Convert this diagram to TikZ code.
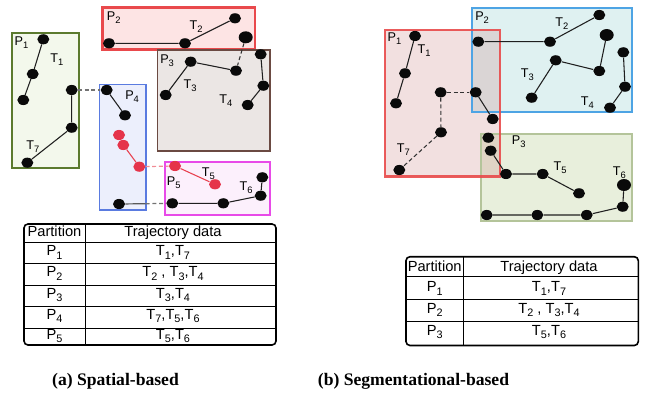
\documentclass[tikz,border=0pt]{standalone}
\usepackage{fontspec}
\setmainfont{Liberation Sans}
\newfontfamily\capfont{Liberation Serif}
\usetikzlibrary{shapes.geometric}

\definecolor{dotblack}{HTML}{0A0A0A}
\definecolor{dotred}{HTML}{E5344A}
\definecolor{segred}{HTML}{E8404E}
\definecolor{lgreenfill}{HTML}{F3F8EC}
\definecolor{lgreenline}{HTML}{5B7A2E}
\definecolor{lbluefill}{HTML}{ECEFFC}
\definecolor{lblueline}{HTML}{5A7BE0}
\definecolor{lredfill}{HTML}{FDE4E4}
\definecolor{lredline}{HTML}{E9494C}
\definecolor{lbrownfill}{HTML}{EBE6E4}
\definecolor{lbrownline}{HTML}{6B4A42}
\definecolor{lmagfill}{HTML}{FCF0FC}
\definecolor{lmagline}{HTML}{E84AE8}
\definecolor{rredtint}{HTML}{CC8484}
\definecolor{rredline}{HTML}{E84A4A}
\definecolor{rcyanfill}{HTML}{DFF1F1}
\definecolor{rcyanline}{HTML}{4EA4E4}
\definecolor{rgreenfill}{HTML}{E8EFDC}
\definecolor{rgreenline}{HTML}{B4C49A}

% subscript at about three quarters of the running size
\newcommand\sbs[1]{\raisebox{-0.45ex}{\fontsize{0.74\dimexpr\fontdimen6\font\relax}{1pt}\selectfont #1}}

\begin{document}
\begin{tikzpicture}[x=0.75pt,y=-0.75pt,
  dot/.style={ellipse,fill=dotblack,inner sep=0pt,minimum width=9pt,minimum height=7.6pt},
  bigdot/.style={dot,minimum width=10.5pt,minimum height=9pt},
  rdot/.style={dot,fill=dotred},
  seg/.style={draw=black!88,line width=0.8pt},
  rseg/.style={draw=segred,line width=0.8pt},
  dseg/.style={draw=black!80,line width=0.8pt,dash pattern=on 3pt off 2pt},
  gdseg/.style={draw=black!55,line width=0.9pt,dash pattern=on 3pt off 2pt},
  rdseg/.style={draw=segred!60,line width=0.9pt,dash pattern=on 3pt off 2pt},
  lbl/.style={font=\fontsize{9.5}{10}\selectfont,inner sep=0pt,anchor=base west},
  cell/.style={font=\fontsize{11}{12}\selectfont,inner sep=0pt,anchor=base},
  capt/.style={font=\capfont\bfseries\fontsize{13.2}{15}\selectfont,inner sep=0pt,anchor=base},
  frame/.style={line width=1.2pt,rounded corners=3pt},
  rule/.style={line width=0.75pt}]
\useasboundingbox (0,0) rectangle (652,393);

% ---------------- spatial partitions ----------------
\filldraw[fill=lgreenfill,draw=lgreenline,line width=1.3pt] (12.3,32.7) rectangle (79,167.7);
\filldraw[fill=lbluefill,draw=lblueline,line width=1.2pt] (99.3,84.3) rectangle (145.7,210);
\filldraw[fill=lredfill,draw=lredline,line width=1.8pt] (102.3,7.3) rectangle (255,49.3);
\filldraw[fill=lbrownfill,draw=lbrownline,line width=1.2pt] (157.3,50) rectangle (270,150.7);
\filldraw[fill=lmagfill,draw=lmagline,line width=1.2pt] (165,161.7) rectangle (270,215);

\node[lbl] (lP1) at (14.3,45.7) {P\sbs{1}};
\node[lbl] (lT1) at (50,62.3) {T\sbs{1}};
\node[lbl] (lT7) at (26,149) {T\sbs{7}};
\node[lbl] (lP4) at (125,99.3) {P\sbs{4}};
\node[lbl] (lP2) at (106.7,20) {P\sbs{2}};
\node[lbl] (lT2) at (189.3,29.3) {T\sbs{2}};
\node[lbl] (lP3) at (160,63.3) {P\sbs{3}};
\node[lbl] (lT3) at (183.3,88.3) {T\sbs{3}};
\node[lbl] (lT4) at (219,103.3) {T\sbs{4}};
\node[lbl] (lP5) at (166.7,185) {P\sbs{5}};
\node[lbl] (lT5) at (201.7,176) {T\sbs{5}};
\node[lbl] (lT6) at (239.3,190) {T\sbs{6}};

% trajectory points
\node[dot] (l1a) at (43.3,39.3) {};
\node[dot] (l1b) at (32.7,74) {};
\node[dot] (l1c) at (23.3,100) {};
\node[dot] (l7a) at (71.7,90) {};
\node[dot] (l7b) at (71.7,127.7) {};
\node[dot] (l7c) at (27.3,162.7) {};
\node[dot] (l4a) at (106.7,90) {};
\node[dot] (l4b) at (125,115.3) {};
\node[rdot] (r1) at (119,135) {};
\node[rdot] (r2) at (123.3,145) {};
\node[rdot] (r3) at (139.3,166.7) {};
\node[dot] (l4c) at (119,204) {};
\node[dot] (l2a) at (109,43.3) {};
\node[dot] (l2b) at (185,43.3) {};
\node[dot] (l2c) at (235,18.3) {};
\node[bigdot] (l2d) at (245.7,37.3) {};
\node[dot] (l3a) at (165.7,95) {};
\node[dot] (l3b) at (190.7,61.7) {};
\node[dot] (l3c) at (236,70.7) {};
\node[dot] (l3d) at (260.7,54.3) {};
\node[dot] (l3e) at (263.3,85.7) {};
\node[dot] (l3f) at (247.7,105) {};
\node[rdot] (r4) at (175,166) {};
\node[rdot] (r5) at (215,184.3) {};
\node[dot] (l5a) at (172.3,203.3) {};
\node[dot] (l5b) at (223.3,203.3) {};
\node[dot] (l5c) at (260.7,195.7) {};
\node[dot] (l5d) at (262.3,177.3) {};
\coordinate (l4edge) at (145.7,203.7);

\draw[seg] (l1a) -- (l1b) -- (l1c);
\draw[seg] (l7a) -- (l7b) -- (l7c);
\draw[gdseg] (l7a) -- (l4a);
\draw[seg] (l4a) -- (l4b);
\draw[rseg] (r2) -- (r3);
\draw[rdseg] (r3) -- (r4);
\draw[rseg] (r4) -- (r5);
\draw[draw=black!65,line width=0.9pt] (l4c) -- (l4edge);
\draw[gdseg] (l4edge) -- (l5a);
\draw[seg] (l2a) -- (l2b) -- (l2c);
\draw[dseg] (l2d) -- (l3c);
\draw[seg] (l3a) -- (l3b) -- (l3c);
\draw[seg] (l3d) -- (l3e) -- (l3f);
\draw[seg] (l5a) -- (l5b) -- (l5c) -- (l5d);

% partition table
\draw[frame] (24,224) rectangle (276,345);
\draw[rule] (85,224) -- (85,345);
\foreach \yy in {242.3,263.5,285,306.7,328.3}
  \draw[rule] (24,\yy) -- (276,\yy);
\node[cell] (ah) at (54.5,236.7) {Partition};
\node[cell] (bh) at (173,236.7) {Trajectory data};
\node[cell] (a1) at (54.5,255.7) {P\sbs{1}};
\node[cell] (b1) at (173,255.7) {T\sbs{1},T\sbs{7}};
\node[cell] (a2) at (54.5,276.7) {P\sbs{2}};
\node[cell] (b2) at (173,276.7) {T\sbs{2} , T\sbs{3},T\sbs{4}};
\node[cell] (a3) at (54.5,298.3) {P\sbs{3}};
\node[cell] (b3) at (173,298.3) {T\sbs{3},T\sbs{4}};
\node[cell] (a4) at (54.5,319) {P\sbs{4}};
\node[cell] (b4) at (173,319) {T\sbs{7},T\sbs{5},T\sbs{6}};
\node[cell] (a5) at (54.5,339) {P\sbs{5}};
\node[cell] (b5) at (173,339) {T\sbs{5},T\sbs{6}};

\node[capt] (capa) at (115.5,385) {(a) Spatial-based};

% ---------------- segmentational partitions ----------------
\fill[rcyanfill] (471.7,8.3) rectangle (632.3,111.7);
\fill[rgreenfill] (480.7,134) rectangle (632.3,220.7);
\fill[rredtint,fill opacity=0.25] (385,30) rectangle (500,176.7);
\draw[rcyanline,line width=1.3pt] (471.7,8.3) rectangle (632.3,111.7);
\draw[rgreenline,line width=1.5pt] (480.7,134) rectangle (632.3,220.7);
\draw[rredline,line width=2pt,draw opacity=0.9] (385,30) rectangle (500,176.7);

\node[lbl] (rP1) at (387.3,41.7) {P\sbs{1}};
\node[lbl] (rT1) at (417.3,53.3) {T\sbs{1}};
\node[lbl] (rT7) at (396.7,152.7) {T\sbs{7}};
\node[lbl] (rP2) at (475,20.7) {P\sbs{2}};
\node[lbl] (rT2) at (555,26) {T\sbs{2}};
\node[lbl] (rT3) at (520.7,77.3) {T\sbs{3}};
\node[lbl] (rT4) at (580.7,105.3) {T\sbs{4}};
\node[lbl] (rP3) at (511.7,144) {P\sbs{3}};
\node[lbl] (rT5) at (553.3,170.7) {T\sbs{5}};
\node[lbl] (rT6) at (612.7,175) {T\sbs{6}};

\node[dot] (q1a) at (415,36) {};
\node[dot] (q1b) at (405,73.3) {};
\node[dot] (q1c) at (396,103.3) {};
\node[dot] (q7a) at (440.7,92.3) {};
\node[dot] (q7b) at (475.7,92.3) {};
\node[dot] (q7c) at (441,132.3) {};
\node[dot] (q7d) at (399.3,170) {};
\node[dot] (q7e) at (492.7,119) {};
\node[dot] (q2a) at (478.3,41.7) {};
\node[dot] (q2b) at (550,41.7) {};
\node[dot] (q2c) at (599.3,15) {};
\node[dot] (q3a) at (531.7,97.7) {};
\node[dot] (q3b) at (555.7,60.3) {};
\node[dot] (q3c) at (599.3,71) {};
\node[bigdot] (q3d) at (606.7,35) {};
\node[dot] (q4a) at (623.3,52.3) {};
\node[dot] (q4b) at (625,86.7) {};
\node[dot] (q4c) at (610,107.7) {};
\node[dot] (q5x) at (488.3,137.7) {};
\node[dot] (q5a) at (490.7,150.7) {};
\node[dot] (q5b) at (506,174) {};
\node[dot] (q5c) at (542.7,174) {};
\node[dot] (q5d) at (579,193.3) {};
\node[dot] (q6a) at (486.7,215) {};
\node[dot] (q6b) at (537.3,215) {};
\node[dot] (q6c) at (586.7,215) {};
\node[dot] (q6d) at (622.7,206.7) {};
\node[bigdot] (q6e) at (624,185) {};

\draw[seg] (q1a) -- (q1b) -- (q1c);
\draw[dseg] (q7a) -- (q7b);
\draw[dseg] (q7a) -- (q7c);
\draw[dseg] (q7c) -- (q7d);
\draw[seg] (q7b) -- (q7e);
\draw[seg] (q2a) -- (q2b) -- (q2c);
\draw[seg] (q3a) -- (q3b) -- (q3c) -- (q3d);
\draw[seg] (q4a) -- (q4b) -- (q4c);
\draw[seg] (q5a) -- (q5b) -- (q5c) -- (q5d);
\draw[seg] (q6a) -- (q6b) -- (q6c) -- (q6d) -- (q6e);

% partition table
\draw[frame] (406,256.7) rectangle (638.3,345.5);
\draw[rule] (463.3,256.7) -- (463.3,345.5);
\foreach \yy in {276.7,299,321}
  \draw[rule] (406,\yy) -- (638.3,\yy);
\node[cell] (ch) at (434.7,271) {Partition};
\node[cell] (dh) at (549,271) {Trajectory data};
\node[cell] (c1) at (434.7,291.7) {P\sbs{1}};
\node[cell] (d1) at (549,291.7) {T\sbs{1},T\sbs{7}};
\node[cell] (c2) at (434.7,313.3) {P\sbs{2}};
\node[cell] (d2) at (549,313.3) {T\sbs{2} , T\sbs{3},T\sbs{4}};
\node[cell] (c3) at (434.7,335) {P\sbs{3}};
\node[cell] (d3) at (549,335) {T\sbs{5},T\sbs{6}};

\node[capt] (capb) at (413.5,385) {(b) Segmentational-based};
\end{tikzpicture}
\end{document}
